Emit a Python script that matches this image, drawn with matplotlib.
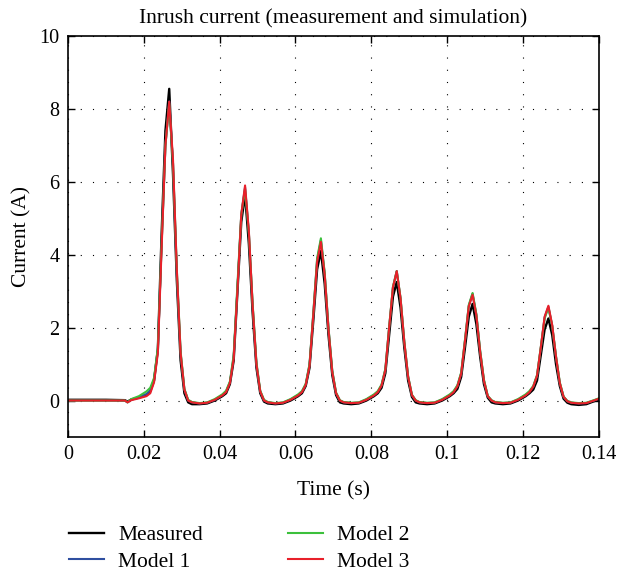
import matplotlib
matplotlib.use("Agg")
import matplotlib.pyplot as plt

plt.rcParams['font.family'] = ['Liberation Serif', 'DejaVu Serif']

# time samples (s)
t = [0.000, 0.005, 0.010, 0.0150, 0.0157, 0.0167,
     0.0187, 0.0207, 0.0217, 0.0227, 0.0237, 0.0247, 0.0257, 0.0267, 0.0277, 0.0287, 0.0297, 0.0307, 0.0317, 0.0327, 0.0347,
     0.0367, 0.0387, 0.0407, 0.0417, 0.0427, 0.0437, 0.0447, 0.0457, 0.0467, 0.0477, 0.0487, 0.0497, 0.0507, 0.0517, 0.0527, 0.0547,
     0.0567, 0.0587, 0.0607, 0.0617, 0.0627, 0.0637, 0.0647, 0.0657, 0.0667, 0.0677, 0.0687, 0.0697, 0.0707, 0.0717, 0.0727, 0.0747,
     0.0767, 0.0787, 0.0807, 0.0817, 0.0827, 0.0837, 0.0847, 0.0857, 0.0867, 0.0877, 0.0887, 0.0897, 0.0907, 0.0917, 0.0927, 0.0947,
     0.0967, 0.0987, 0.1007, 0.1017, 0.1027, 0.1037, 0.1047, 0.1057, 0.1067, 0.1077, 0.1087, 0.1097, 0.1107, 0.1117, 0.1127, 0.1147,
     0.1167, 0.1187, 0.1207, 0.1217, 0.1227, 0.1237, 0.1247, 0.1257, 0.1267, 0.1277, 0.1287, 0.1297, 0.1307, 0.1317, 0.1327, 0.1347,
     0.1367, 0.1387, 0.1400]

measured = [0.02, 0.02, 0.02, 0.01, -0.03, 0.03,
            0.08, 0.15, 0.25, 0.55, 1.4, 4.6, 7.4, 8.55, 6.2, 3.3, 1.1, 0.2, -0.05, -0.1, -0.1,
            -0.08, 0.0, 0.12, 0.2, 0.45, 1.1, 3.0, 4.9, 5.65, 4.3, 2.4, 0.9, 0.2, -0.03, -0.08, -0.1,
            -0.08, 0.0, 0.12, 0.2, 0.4, 0.9, 2.2, 3.6, 4.1, 3.2, 1.8, 0.7, 0.15, -0.05, -0.08, -0.1,
            -0.08, 0.0, 0.12, 0.2, 0.35, 0.75, 1.8, 2.85, 3.25, 2.55, 1.45, 0.55, 0.1, -0.05, -0.08, -0.1,
            -0.08, 0.0, 0.12, 0.2, 0.32, 0.65, 1.45, 2.3, 2.65, 2.1, 1.2, 0.45, 0.08, -0.05, -0.08, -0.1,
            -0.08, 0.0, 0.12, 0.2, 0.3, 0.55, 1.25, 1.95, 2.25, 1.8, 1.0, 0.4, 0.05, -0.06, -0.1, -0.12,
            -0.1, -0.02, 0.03]

model1 = [0.0, 0.0, 0.0, 0.0, -0.05, 0.02,
          0.09, 0.18, 0.28, 0.58, 1.4, 4.3, 7.0, 8.2, 6.5, 3.5, 1.3, 0.3, 0.0, -0.05, -0.08,
          -0.06, 0.02, 0.15, 0.25, 0.5, 1.2, 3.1, 5.1, 5.85, 4.6, 2.6, 1.0, 0.25, 0.0, -0.05, -0.08,
          -0.06, 0.03, 0.15, 0.24, 0.44, 0.98, 2.38, 3.85, 4.4, 3.48, 1.98, 0.8, 0.2, 0.0, -0.05, -0.07,
          -0.06, 0.03, 0.15, 0.24, 0.42, 0.85, 2.0, 3.1, 3.55, 2.8, 1.6, 0.65, 0.15, 0.0, -0.05, -0.07,
          -0.06, 0.03, 0.15, 0.24, 0.4, 0.75, 1.65, 2.6, 2.93, 2.35, 1.35, 0.55, 0.12, 0.0, -0.05, -0.07,
          -0.06, 0.03, 0.15, 0.24, 0.38, 0.68, 1.45, 2.28, 2.57, 2.05, 1.2, 0.48, 0.1, -0.02, -0.06, -0.08,
          -0.07, 0.0, 0.05]

model2 = [0.0, 0.0, 0.0, 0.0, -0.05, 0.04,
          0.12, 0.25, 0.35, 0.62, 1.45, 4.3, 7.0, 8.15, 6.5, 3.6, 1.35, 0.32, 0.02, -0.04, -0.07,
          -0.05, 0.04, 0.17, 0.27, 0.52, 1.25, 3.2, 5.1, 5.8, 4.6, 2.65, 1.05, 0.27, 0.02, -0.04, -0.07,
          -0.05, 0.04, 0.17, 0.26, 0.46, 1.0, 2.4, 3.9, 4.45, 3.5, 2.0, 0.82, 0.22, 0.01, -0.04, -0.06,
          -0.05, 0.04, 0.17, 0.26, 0.44, 0.87, 2.02, 3.12, 3.55, 2.82, 1.62, 0.67, 0.16, 0.01, -0.04, -0.06,
          -0.05, 0.04, 0.17, 0.26, 0.42, 0.77, 1.67, 2.62, 2.95, 2.37, 1.37, 0.57, 0.13, 0.01, -0.04, -0.06,
          -0.05, 0.04, 0.17, 0.26, 0.4, 0.7, 1.47, 2.25, 2.55, 2.05, 1.22, 0.5, 0.11, -0.01, -0.05, -0.07,
          -0.06, 0.01, 0.06]

model3 = [0.0, 0.0, 0.0, 0.0, -0.05, 0.01,
          0.06, 0.12, 0.2, 0.5, 1.3, 4.2, 7.0, 8.2, 6.6, 3.6, 1.3, 0.3, 0.0, -0.05, -0.08,
          -0.06, 0.02, 0.14, 0.23, 0.48, 1.15, 3.05, 5.1, 5.9, 4.65, 2.6, 1.0, 0.25, 0.0, -0.05, -0.08,
          -0.06, 0.02, 0.14, 0.23, 0.43, 0.95, 2.35, 3.8, 4.35, 3.45, 1.95, 0.78, 0.2, 0.0, -0.05, -0.07,
          -0.06, 0.02, 0.14, 0.23, 0.41, 0.84, 2.0, 3.1, 3.55, 2.8, 1.6, 0.65, 0.15, 0.0, -0.05, -0.07,
          -0.06, 0.02, 0.14, 0.23, 0.39, 0.74, 1.63, 2.58, 2.9, 2.33, 1.33, 0.54, 0.12, 0.0, -0.05, -0.07,
          -0.06, 0.02, 0.14, 0.23, 0.38, 0.68, 1.46, 2.3, 2.6, 2.07, 1.2, 0.48, 0.1, -0.02, -0.06, -0.08,
          -0.07, 0.0, 0.05]

xticks = [0, 0.02, 0.04, 0.06, 0.08, 0.10, 0.12, 0.14]
xticklabels = ["0", "0.02", "0.04", "0.06", "0.08", "0.1", "0.12", "0.14"]
yticks = [0, 2, 4, 6, 8, 10]

FS = 15.5
fig = plt.figure(figsize=(6.18, 5.71), dpi=100)
ax = fig.add_axes([0.1100, 0.2347, 0.8590, 0.7023])

ax.plot(t, measured, color='black', lw=1.7, label='Measured')
ax.plot(t, model1, color='#2f4fa0', lw=1.5, label='Model 1')
ax.plot(t, model2, color='#3cc03c', lw=1.5, label='Model 2')
ax.plot(t, model3, color='#e8202a', lw=1.5, label='Model 3')

ax.set_xlim(0, 0.14)
ax.set_ylim(-1, 10)
ax.set_xticks(xticks)
ax.set_xticklabels(xticklabels)
ax.set_yticks(yticks)
ax.tick_params(direction='in', top=True, right=True, length=5, width=1, labelsize=14.5, pad=6)
ax.grid(True, color='black', lw=0.8, linestyle=(0, (1, 10)))
for s in ax.spines.values():
    s.set_linewidth(1.2)

ax.set_title('Inrush current (measurement and simulation)', fontsize=FS, pad=9)
ax.set_xlabel('Time (s)', fontsize=FS, labelpad=12.5)
ax.set_ylabel('Current (A)', fontsize=FS, labelpad=6)

handles, labels = ax.get_legend_handles_labels()
fig.legend(handles, labels, loc='upper left', bbox_to_anchor=(0.1117, 0.0806), ncol=2,
           frameon=False, fontsize=FS, handlelength=1.63, columnspacing=3.95,
           labelspacing=0.3, handletextpad=0.65, borderpad=0, borderaxespad=0)

fig.savefig('out.png', dpi=100)
